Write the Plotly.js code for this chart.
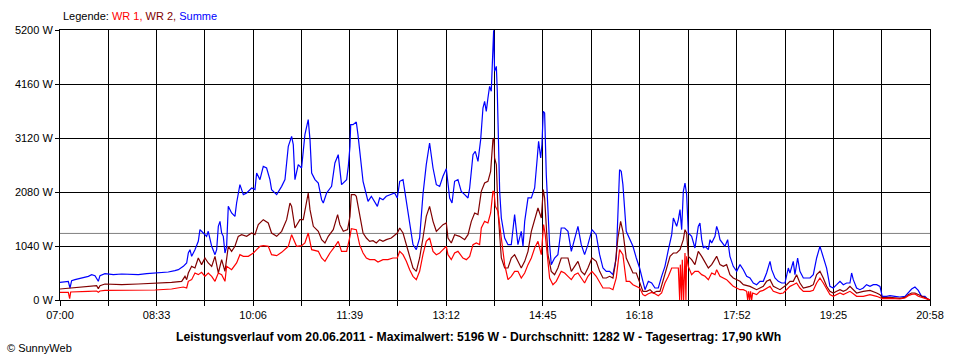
<!DOCTYPE html>
<html>
<head>
<meta charset="utf-8">
<script src="https://cdn.plot.ly/plotly-3.0.1.min.js"></script>
<style>html,body{margin:0;padding:0;background:#fff;}#chart{width:960px;height:360px;}</style>
</head>
<body>
<div id="chart"></div>
<script>
// Tick labels (time of day) and their minutes after 07:00
const xTickLabels = ['07:00','08:33','10:06','11:39','13:12','14:45','16:18','17:52','19:25','20:58'];
const xTickMinutes = [0, 93, 186, 279, 372, 465, 558, 652, 745, 838];
const yTickValues = [0, 1040, 2080, 3120, 4160, 5200];
const yTickLabels = ['0 W', '1040 W', '2080 W', '3120 W', '4160 W', '5200 W'];
const average = 1282;

// Summe (blue): minutes after 07:00 and watts
const sumMin = [0,8.0,9.6,11.2,14.4,20.9,27.3,30.5,33.7,36.9,38.5,43.3,51.4,59.4,67.4,75.4,83.5,91.5,97.9,104.3,110.7,114.0,118.8,122.0,123.6,125.2,126.8,130.0,133.2,134.8,138.0,141.2,142.8,144.5,146.1,149.3,150.9,152.5,154.1,155.7,157.3,158.9,160.5,162.1,165.3,168.5,170.1,173.3,176.6,179.8,184.6,187.8,189.4,192.6,195.8,199.0,202.2,203.8,208.7,213.5,216.7,219.9,223.1,224.7,226.3,229.5,232.7,235.9,239.1,240.8,242.4,245.6,248.8,252.0,253.6,256.8,261.6,264.8,268.0,269.6,271.2,276.1,277.7,279.3,280.0,282.2,285.4,287.0,288.6,291.9,293.5,296.7,299.9,303.1,305.7,307.9,311.1,314.3,319.1,322.3,324.9,327.2,330.4,333.6,336.8,340.0,343.2,346.4,349.6,352.8,356.0,359.3,362.5,365.7,368.9,372.1,373.7,375.3,377.6,380.1,383.3,386.5,389.8,393.0,394.6,397.8,400.0,402.6,405.2,407.4,409.0,410.6,412.2,413.8,415.4,417.0,417.7,418.6,420.3,421.2,422.5,423.5,425.1,428.3,431.5,434.7,437.9,439.5,441.1,444.3,446.0,447.6,450.8,454.0,457.2,459.7,461.0,463.0,464.2,465.5,466.8,468.4,470.0,471.6,473.2,476.4,479.6,482.8,486.1,489.3,492.5,495.7,498.9,502.1,505.3,508.5,512.4,516.5,519.8,523.0,526.2,529.4,532.6,535.8,539.0,540.6,542.2,545.4,548.6,551.9,555.1,558.3,561.5,563.5,566.7,569.9,573.1,576.3,579.5,582.7,586.0,589.2,590.8,592.4,594.0,595.6,597.2,598.8,600.4,602.0,603.6,605.2,608.4,611.6,614.8,616.4,618.1,619.7,621.3,624.5,626.1,627.7,630.9,632.5,634.1,635.7,638.0,640.5,643.1,645.3,648.5,651.8,655.0,658.2,661.4,664.6,667.8,671.0,674.2,677.4,680.6,683.9,685.5,688.7,691.9,695.1,698.3,701.5,703.1,706.3,707.9,710.5,712.7,716.0,719.2,722.4,725.6,728.8,732.0,735.2,738.4,741.6,744.8,748.1,751.3,754.5,757.7,760.9,762.5,764.1,767.3,770.5,773.7,776.9,780.2,783.4,786.6,789.8,792.0,796.2,799.4,804.2,809.0,813.9,817.1,820.3,823.5,826.7,829.9,833.1,836.3,838];
const sumW = [340,360,231,372,392,424,456,488,469,360,469,507,488,501,494,488,507,520,526,539,565,584,648,713,905,969,841,969,1130,1355,1290,1226,1323,1162,1034,873,969,1419,1515,1290,1226,905,1034,1804,1676,1611,1868,2221,2029,2061,2157,2125,2446,2318,2574,2542,2318,2125,2029,2189,2318,2960,3152,2992,2318,2607,2542,3184,3473,3088,2446,2318,2253,1932,1868,2061,2189,2639,2799,2510,2221,2318,2574,2960,3377,3377,3428,3184,2863,2286,2157,1900,1997,1900,1804,1965,1932,1997,2029,2061,1965,2286,2318,1900,1451,1066,969,1194,2029,2607,3024,2542,2221,2189,2382,2529,2253,1965,1868,2286,2318,2093,2029,1965,2157,2799,2863,2671,3088,3698,3826,3634,3891,4115,4019,5142,5196,4404,4500,4019,3120,2093,1579,1194,1066,1066,1644,1323,1066,1323,1034,1515,1965,1965,2157,2735,3056,2735,2992,3634,3602,2414,1579,1066,681,809,873,1387,1387,1323,937,1194,1419,1066,873,1066,1355,1258,873,616,552,552,488,809,2510,2478,2221,1323,1194,1034,809,616,360,199,360,327,231,231,456,648,969,1258,1579,1483,1419,1547,1740,1355,2093,2253,2029,1290,1226,1002,1419,1483,1162,1002,1034,969,1162,1098,1226,1419,1323,1162,1098,1034,1162,841,648,552,681,584,456,424,327,295,360,360,520,745,584,424,360,327,327,616,520,745,488,809,552,424,424,424,488,809,1034,841,616,263,231,295,360,295,327,327,520,392,231,199,231,295,263,295,295,263,71,71,83,71,58,71,135,212,250,186,71,71,6,0];

// WR 2 (dark red)
const wr2Min = [0,11.2,20.9,27.3,35.3,36.9,38.5,43.3,59.4,75.4,91.5,107.5,117.2,120.4,122.0,123.6,126.8,130.0,133.2,136.4,139.6,142.8,146.1,149.3,152.5,154.1,155.7,158.9,162.1,165.3,168.5,171.7,174.9,179.8,184.6,187.8,191.0,195.8,200.6,203.8,208.7,213.5,218.3,221.5,223.1,226.3,231.1,234.3,237.5,239.1,240.8,244.0,248.8,252.0,255.2,258.4,263.2,267.4,269.6,272.9,277.0,279.3,280.6,283.8,285.4,288.6,291.9,295.1,298.3,301.5,304.7,307.9,311.1,314.3,319.1,324.9,327.2,330.4,333.6,336.8,340.0,343.2,346.4,349.6,352.8,356.0,359.3,362.5,365.7,368.9,372.1,373.7,376.9,380.1,384.9,389.8,393.0,396.2,399.4,402.6,405.8,409.0,412.2,414.8,417.0,418.0,418.6,420.3,421.9,423.5,425.1,428.3,431.5,434.7,437.9,441.1,444.3,447.6,450.8,454.0,457.2,460.4,463.6,465.5,466.8,468.4,470.0,473.2,476.4,479.6,482.8,486.1,489.3,492.5,495.7,498.9,502.1,505.3,508.5,512.4,516.5,519.8,523.0,526.2,529.4,532.6,534.8,537.4,540.0,542.2,545.4,548.6,551.9,555.1,558.3,561.5,565.1,568.3,571.5,574.7,577.9,581.1,584.3,587.6,590.8,594.0,597.2,600.4,602.0,603.6,605.2,608.4,611.6,614.8,618.1,621.3,624.5,627.7,630.9,632.5,635.7,638.9,642.1,645.3,648.5,651.8,655.0,658.2,664.6,671.0,674.2,677.4,680.6,683.9,687.1,690.3,693.5,699.9,703.1,706.3,709.5,712.7,716.0,722.4,725.6,728.8,732.0,735.2,738.4,741.6,744.8,748.1,751.3,754.5,757.7,760.9,764.1,767.3,773.7,780.2,786.6,789.8,792.0,799.4,809.0,813.9,817.1,820.3,823.5,826.7,829.9,833.1,836.3,838];
const wr2W = [212,231,250,263,276,218,276,308,295,308,321,340,360,456,392,520,648,616,809,681,809,713,648,841,520,648,777,552,1034,937,1034,1226,1258,1226,1290,1258,1451,1547,1483,1290,1226,1323,1547,1868,1804,1387,1547,1547,1868,2061,1740,1419,1323,1162,1098,1226,1355,1644,1451,1323,1355,1611,2029,2029,1997,1644,1290,1194,1130,1143,1098,1162,1130,1162,1194,1290,1387,1290,1066,809,616,552,809,1194,1611,1804,1515,1323,1387,1451,1483,1194,1098,1258,1226,1162,1258,1515,1676,1644,2093,2253,2286,2478,3088,3120,2735,2607,1708,1323,809,616,616,809,873,745,616,745,937,1323,1547,1772,1579,2125,1965,1323,873,552,488,616,809,809,809,552,648,745,552,488,616,809,745,552,424,424,456,424,681,1194,1515,1323,809,681,520,520,327,167,167,199,135,167,167,392,584,841,905,905,969,1162,1355,1290,841,777,681,937,841,713,616,681,777,841,681,648,681,488,424,392,360,295,263,199,231,263,360,392,263,231,199,295,360,360,488,327,231,263,295,488,552,424,263,167,135,167,199,167,199,263,199,135,167,186,135,103,45,51,32,51,103,135,135,103,71,39,6,0];

// WR 1 (red)
const wr1Min = [0,8.0,9.3,10.3,27.3,35.3,36.9,38.5,43.3,59.4,75.4,91.5,107.5,118.8,122.0,123.6,126.8,130.0,133.2,136.4,139.6,142.8,146.1,149.3,152.5,155.7,158.9,160.5,165.3,170.1,173.3,176.6,181.4,186.2,189.4,192.6,195.8,200.6,203.8,208.7,213.5,219.9,223.1,224.7,227.9,232.7,235.9,239.1,242.4,248.8,252.0,255.2,260.0,264.8,268.0,271.2,276.1,279.3,280.6,285.4,288.6,291.9,295.1,298.3,303.1,306.3,311.1,315.9,320.7,324.9,327.2,330.4,333.6,336.8,340.0,343.2,346.4,349.6,352.8,356.0,359.3,362.5,365.7,368.9,372.1,373.7,376.9,380.1,383.3,388.1,391.4,394.6,397.8,401.0,404.2,405.8,409.0,412.2,414.8,417.0,418.0,419.3,421.9,425.1,428.3,431.5,434.7,437.9,441.1,444.3,447.6,450.8,454.0,457.2,460.4,463.6,465.8,467.4,469.3,471.6,474.8,478.0,482.8,486.1,489.3,492.5,495.7,498.9,502.1,505.3,508.5,512.4,516.5,519.8,523.0,526.2,529.4,532.6,535.8,539.0,542.2,545.4,548.6,551.9,555.1,558.3,561.5,563.5,566.7,569.9,573.1,576.3,579.5,582.7,586.0,589.2,592.4,595.6,596.9,597.5,598.8,599.4,600.7,601.3,602.0,602.9,603.6,605.2,608.4,611.6,614.8,618.1,621.3,624.5,627.7,630.9,632.5,635.7,638.9,642.1,645.3,648.5,651.8,655.0,658.2,661.4,662.4,663.3,664.3,665.2,666.2,667.2,671.0,674.2,677.4,680.6,683.9,687.1,690.3,693.5,696.7,699.9,703.1,706.3,709.5,712.7,716.0,722.4,725.6,728.8,732.0,735.2,738.4,741.6,744.8,748.1,751.3,754.5,757.7,760.9,764.1,767.3,773.7,780.2,786.6,789.8,792.0,799.4,809.0,813.9,817.1,820.3,823.5,826.7,829.9,833.1,836.3,838];
const wr1W = [148,148,26,154,167,173,148,173,186,186,186,193,212,250,231,360,392,520,488,533,456,520,456,360,520,488,360,648,584,713,873,841,841,905,969,1034,1046,1034,873,854,918,1034,1258,1194,1034,1046,1098,1290,969,937,809,745,905,1034,1130,937,937,1226,1374,1355,1066,905,809,777,777,732,777,777,809,809,937,873,745,584,456,392,552,873,1130,1194,937,873,905,969,1034,873,777,905,937,809,777,841,1066,1098,1066,1387,1515,1483,1676,2093,2093,1804,1708,1194,681,392,456,552,552,424,520,681,809,1002,1130,873,1451,1258,873,424,295,360,552,520,456,392,488,520,424,327,456,552,456,327,231,231,231,199,424,969,873,360,360,295,263,231,103,83,122,148,122,83,135,327,456,616,616,616,0,681,0,777,0,873,905,0,841,648,488,552,552,488,456,392,520,488,584,456,424,392,327,263,231,199,199,167,0,167,0,167,0,135,103,167,186,231,263,167,148,122,135,199,263,295,327,231,167,167,186,327,424,327,199,103,71,103,135,103,135,167,122,71,71,103,71,51,26,32,19,39,83,109,116,71,51,32,6,0];

// Gridlines at every tick and at the midpoints between labelled ticks
const tickVals = [], tickText = [];
xTickMinutes.forEach((m, i) => {
  tickVals.push(m); tickText.push(xTickLabels[i]);
  if (i < xTickMinutes.length - 1) { tickVals.push((m + xTickMinutes[i + 1]) / 2); tickText.push(''); }
});

const FONT = 'Liberation Sans, Arial, sans-serif';
const traces = [
  {x: sumMin, y: sumW, type: 'scatter', mode: 'lines', name: 'Summe', line: {color: '#0000FF', width: 1.2}},
  {x: wr2Min, y: wr2W, type: 'scatter', mode: 'lines', name: 'WR 2', line: {color: '#800000', width: 1.2}},
  {x: wr1Min, y: wr1W, type: 'scatter', mode: 'lines', name: 'WR 1', line: {color: '#FF0000', width: 1.2}}
];

const layout = {
  width: 960, height: 360,
  margin: {l: 60, r: 30, t: 30, b: 60},
  paper_bgcolor: '#fff', plot_bgcolor: '#fff',
  showlegend: false,
  hovermode: false,
  font: {family: FONT, size: 11, color: '#000'},
  xaxis: {
    range: [0, 838], tickmode: 'array', tickvals: tickVals, ticktext: tickText,
    showgrid: true, gridcolor: '#000', gridwidth: 1,
    showline: true, linecolor: '#000', linewidth: 1, mirror: true,
    ticks: 'outside', ticklen: 5, tickcolor: '#000', zeroline: false,
    tickfont: {family: FONT, size: 11, color: '#000'}, fixedrange: true
  },
  yaxis: {
    range: [0, 5200], tickmode: 'array', tickvals: yTickValues, ticktext: yTickLabels,
    showgrid: true, gridcolor: '#000', gridwidth: 1,
    showline: true, linecolor: '#000', linewidth: 1, mirror: true,
    ticks: 'outside', ticklen: 4, tickcolor: '#000', zeroline: false,
    tickfont: {family: FONT, size: 11, color: '#000'}, fixedrange: true
  },
  shapes: [
    {type: 'line', xref: 'paper', x0: 0, x1: 1, yref: 'y', y0: average, y1: average, line: {color: '#808080', width: 1}, layer: 'below'}
  ],
  annotations: [
    {xref: 'paper', yref: 'paper', x: 0.001, y: 1.052, xanchor: 'left', yanchor: 'middle', showarrow: false,
     text: 'Legende: <span style="color:#FF0000">WR 1,</span> <span style="color:#800000">WR 2,</span> <span style="color:#0000FF">Summe</span>',
     font: {family: FONT, size: 11, color: '#000'}},
    {xref: 'paper', yref: 'paper', x: 0.4816, y: -0.137, xanchor: 'center', yanchor: 'middle', showarrow: false,
     text: '<b>Leistungsverlauf vom 20.06.2011 - Maximalwert: 5196 W - Durchschnitt: 1282 W - Tagesertrag: 17,90 kWh</b>',
     font: {family: FONT, size: 12.2, color: '#000'}},
    {xref: 'paper', yref: 'paper', x: -0.0632, y: -0.178, xanchor: 'left', yanchor: 'middle', showarrow: false,
     text: '© SunnyWeb', font: {family: FONT, size: 11, color: '#000'}}
  ]
};

Plotly.newPlot('chart', traces, layout, {displayModeBar: false, staticPlot: true});
</script>
</body>
</html>
